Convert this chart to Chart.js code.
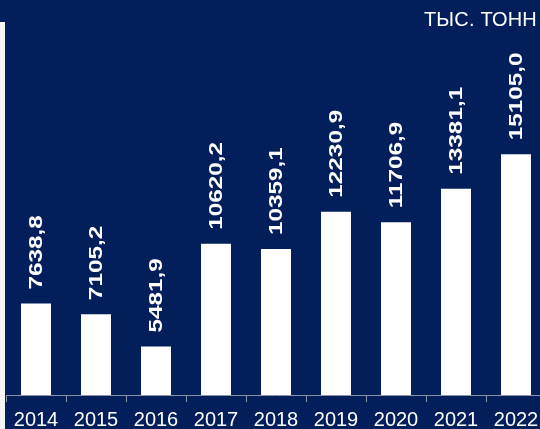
<!DOCTYPE html>
<html>
<head>
<meta charset="utf-8">
<script src="https://cdn.jsdelivr.net/npm/chart.js@4"></script>
<style>
    html, body {
        margin: 0;
        padding: 0;
        width: 540px;
        height: 429px;
        overflow: hidden;
        background: #021f5c;
    }
    #wrap {
        position: absolute;
        left: 0;
        top: 0;
        width: 560px;
        height: 438px;
    }
    #edge {
        position: absolute;
        left: 0;
        top: 22px;
        width: 5px;
        height: 420px;
        background: #f5f5f5;
    }
    #unit {
        position: absolute;
        right: 3px;
        top: 8px;
        color: #ffffff;
        font: 20px "Liberation Sans", Arial, sans-serif;
        letter-spacing: 0.2px;
    }
</style>
</head>
<body>
<div id="wrap"><canvas id="chartCanvas"></canvas></div>
<div id="edge"></div>
<div id="unit">ТЫС. ТОНН</div>
<script>
// データ
const years = ['2014', '2015', '2016', '2017', '2018', '2019', '2020', '2021', '2022'];
const volumes = [7638.8, 7105.2, 5481.9, 10620.2, 10359.1, 12230.9, 11706.9, 13381.1, 15105.0];

// 縦書きラベル（カンマ区切り）
const valueLabels = volumes.map(v => v.toFixed(1).replace('.', ','));

// 棒の上に回転したラベルを描く
const verticalLabels = {
    id: 'verticalLabels',
    afterDatasetsDraw(chart) {
        const ctx = chart.ctx;
        const meta = chart.getDatasetMeta(0);
        ctx.save();
        ctx.fillStyle = '#ffffff';
        ctx.font = 'bold 18px "Liberation Sans", Arial, sans-serif';
        ctx.textAlign = 'left';
        ctx.textBaseline = 'middle';
        meta.data.forEach((bar, i) => {
            ctx.save();
            ctx.translate(bar.x + 1, bar.y - 14);
            ctx.rotate(-Math.PI / 2);
            ctx.scale(1.35, 1);
            ctx.fillText(valueLabels[i], 0, 0);
            ctx.restore();
        });
        ctx.restore();
    }
};

const ctx = document.getElementById('chartCanvas').getContext('2d');
new Chart(ctx, {
    type: 'bar',
    data: {
        labels: years,
        datasets: [{
            data: volumes,
            backgroundColor: '#ffffff',
            borderWidth: 0,
            barPercentage: 0.5,
            categoryPercentage: 1.0
        }]
    },
    options: {
        responsive: true,
        maintainAspectRatio: false,
        animation: false,
        layout: {
            padding: { left: 6, right: 14, top: 0, bottom: 0 }
        },
        plugins: {
            legend: { display: false },
            tooltip: { enabled: false }
        },
        scales: {
            x: {
                offset: true,
                grid: {
                    offset: true,
                    drawOnChartArea: false,
                    drawTicks: true,
                    tickLength: 7,
                    color: '#8a93a6'
                },
                border: { display: true, color: '#8a93a6', width: 1 },
                ticks: {
                    color: '#ffffff',
                    padding: 6,
                    maxRotation: 0,
                    autoSkip: false,
                    font: { family: '"Liberation Sans", Arial, sans-serif', size: 20 }
                }
            },
            y: {
                display: false,
                min: 3060,
                max: 22820
            }
        }
    },
    plugins: [verticalLabels]
});
</script>
</body>
</html>
